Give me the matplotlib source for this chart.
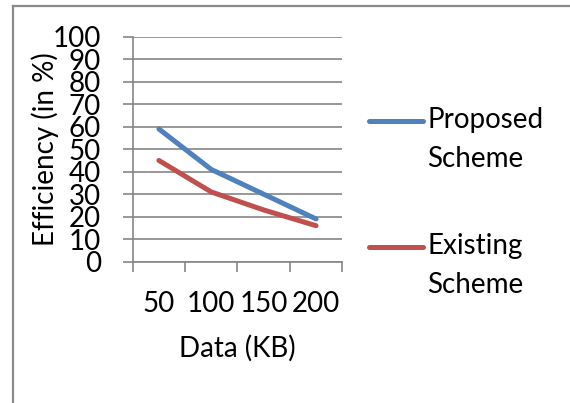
import matplotlib
matplotlib.use("Agg")
import matplotlib.pyplot as plt
from matplotlib.lines import Line2D
import numpy as np

plt.rcParams['font.family'] = ['Lato', 'DejaVu Sans']

categories = ["50", "100", "150", "200"]
proposed = [59, 41, 30, 19]
existing = [45, 31, 23, 16]
series_names = ["Proposed\nScheme", "Existing\nScheme"]
yticks = list(range(0, 101, 10))

BLUE = "#4F81BD"
RED = "#C0504D"
GRID = "#868686"
FS = 20

fig = plt.figure(figsize=(5.70, 4.03), dpi=100)
ax = fig.add_axes([0.2328, 0.3506, 0.3677, 0.5583])

x = np.arange(len(categories))
ax.plot(x, proposed, color=BLUE, lw=3.6, solid_capstyle='round', zorder=3)
ax.plot(x, existing, color=RED, lw=3.6, solid_capstyle='round', zorder=3)

ax.set_xlim(-0.5, len(categories) - 0.5)
ax.set_ylim(0, 100)
ax.set_yticks(yticks)
ax.set_yticklabels([str(v) for v in yticks], fontsize=FS)
ax.set_xticks(x)
ax.set_xticklabels(categories, fontsize=FS)
ax.set_xticks(np.arange(-0.5, len(categories), 1.0), minor=True)
ax.tick_params(axis='x', which='major', length=0, pad=21)
ax.tick_params(axis='x', which='minor', length=7, width=1.2, color=GRID, direction='out')
ax.tick_params(axis='y', length=7, width=1.2, color=GRID, direction='out', pad=16)

ax.yaxis.grid(True, color=GRID, lw=1.2)
ax.set_axisbelow(True)
for s in ['top', 'right']:
    ax.spines[s].set_visible(False)
for s in ['left', 'bottom']:
    ax.spines[s].set_color(GRID)
    ax.spines[s].set_linewidth(1.2)

ax.set_ylabel("Efficiency (in %)", fontsize=FS, labelpad=-5)
ax.set_xlabel("Data (KB)", fontsize=FS, labelpad=13)

# legend (manual, Excel-like)
W, H = 570, 403
def fx(px): return px / W
def fy(py): return 1 - py / H
for name, col, ypx in [(series_names[0], BLUE, 120.7), (series_names[1], RED, 247)]:
    fig.add_artist(Line2D([fx(369), fx(423)], [fy(ypx), fy(ypx)], color=col, lw=3.6,
                          solid_capstyle='round', transform=fig.transFigure))
    fig.text(fx(427), fy(ypx - 14), name, fontsize=FS, va='top', ha='left', linespacing=1.62)

# chart border (top and left)
fig.add_artist(Line2D([fx(12.7), fx(570)], [fy(5.5), fy(5.5)], color="#8a8a8a", lw=1.6,
                      transform=fig.transFigure))
fig.add_artist(Line2D([fx(12.7), fx(12.7)], [fy(5.5), fy(403)], color="#8a8a8a", lw=1.6,
                      transform=fig.transFigure))

fig.savefig("out.png", dpi=100)
